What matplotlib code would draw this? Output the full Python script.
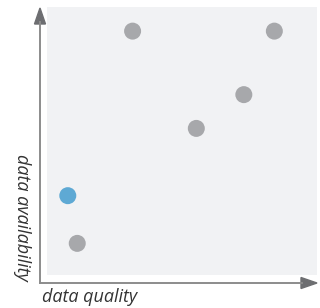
import matplotlib.pyplot as plt
from matplotlib.patches import Polygon
from matplotlib.lines import Line2D

# data (0-10 scale on both axes)
quality = [3.17, 8.42, 7.29, 5.53, 0.77, 1.12]
availability = [9.10, 9.10, 6.73, 5.47, 2.96, 1.18]
colors = ['#a7a8ab', '#a7a8ab', '#a7a8ab', '#a7a8ab', '#5ea9d4', '#a7a8ab']

W, H = 320, 308
fig = plt.figure(figsize=(W / 100, H / 100), dpi=100)


def fx(px):
    return px / W


def fy(py):
    return 1 - py / H


ax = fig.add_axes([fx(47), fy(275), fx(317) - fx(47), fy(7) - fy(275)])
ax.set_facecolor('#f1f2f4')
ax.scatter(quality, availability, s=(17 * 0.72) ** 2, c=colors, linewidths=0, zorder=3)
ax.set_xlim(0, 10)
ax.set_ylim(0, 10)
ax.set_xticks([])
ax.set_yticks([])
for s in ax.spines.values():
    s.set_visible(False)

# axis arrows
axis_col = '#8c8c8c'
head_col = '#6d6e71'
tr = fig.transFigure
fig.add_artist(Line2D([fx(40), fx(40)], [fy(283), fy(22)], color=axis_col, lw=1.4, transform=tr))
fig.add_artist(Line2D([fx(40), fx(302)], [fy(283), fy(283)], color=axis_col, lw=1.4, transform=tr))
fig.add_artist(Polygon([[fx(34.5), fy(24)], [fx(45.5), fy(24)], [fx(40), fy(8)]],
                       closed=True, color=head_col, transform=tr))
fig.add_artist(Polygon([[fx(301), fy(277.5)], [fx(301), fy(288.5)], [fx(317), fy(283)]],
                       closed=True, color=head_col, transform=tr))

fam = ['Open Sans', 'DejaVu Sans']
fig.text(fx(42), fy(297), 'data quality', family=fam, style='italic', fontsize=13,
         color='#333333', ha='left', va='center')
fig.text(fx(22), fy(217), 'data availability', family=fam, style='italic', fontsize=13,
         color='#333333', ha='center', va='center', rotation=-90)

fig.savefig('out.png', dpi=100)
